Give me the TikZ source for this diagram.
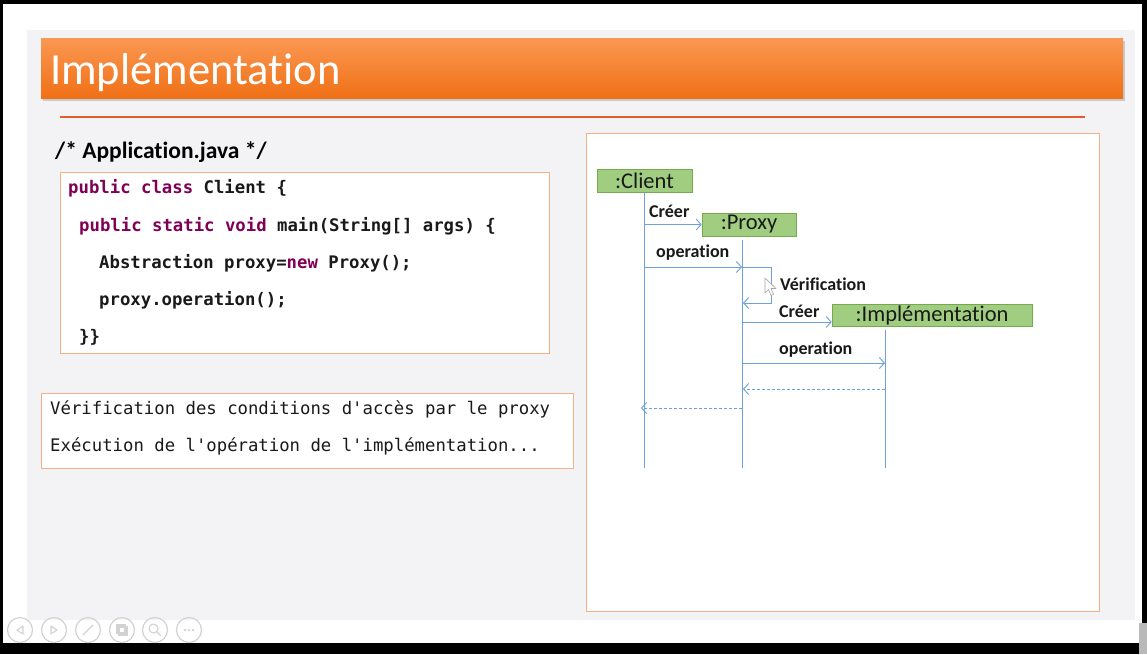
\documentclass[tikz,border=0pt]{standalone}
\usepackage{fontspec}
\setmainfont{Carlito}[Ligatures=NoCommon]
\newfontfamily\codefont{DejaVu Sans Mono}
\usetikzlibrary{arrows.meta,shadows}
\definecolor{slidegrey}{RGB}{243,243,245}
\definecolor{titletop}{RGB}{250,152,82}
\definecolor{titlebot}{RGB}{240,112,22}
\definecolor{rulecol}{RGB}{228,92,45}
\definecolor{boxline}{RGB}{244,177,131}
\definecolor{kw}{RGB}{127,0,85}
\definecolor{life}{RGB}{110,160,220}
\definecolor{objfill}{RGB}{160,205,128}
\definecolor{objline}{RGB}{115,170,75}
\definecolor{iconcol}{RGB}{210,210,210}
\definecolor{ink}{RGB}{25,25,25}

\tikzset{
  codeline/.style={anchor=west, inner sep=0pt, text=ink,
    font=\codefont\bfseries\fontsize{17.3}{20}\selectfont},
  noteline/.style={anchor=west, inner sep=0pt, text=ink,
    font=\codefont\fontsize{17.3}{20}\selectfont},
  obj/.style={draw=objline, fill=objfill, line width=0.6pt, inner sep=0pt,
    text=ink, font=\fontsize{22.5}{24}\selectfont},
  msg/.style={anchor=west, inner sep=0pt, text=ink,
    font=\bfseries\fontsize{18}{20}\selectfont},
  lifeline/.style={draw=life, line width=1pt},
  call/.style={draw=life, line width=0.9pt, -{Straight Barb[length=5pt,width=11pt]}},
  reply/.style={call, dash pattern=on 3pt off 2pt},
  panel/.style={draw=boxline, fill=white, line width=1pt},
  toolbtn/.style={circle, draw=iconcol, line width=1.2pt, minimum size=25pt, inner sep=0pt},
  toolglyph/.style={draw=iconcol, line width=1.1pt},
}

\begin{document}
\begin{tikzpicture}[x=1pt,y=-1pt]
\useasboundingbox (0,0) rectangle (1147,654);

% screen frame and slide
\fill[black] (0,0) rectangle (1147,654);
\fill[white] (3,4) rectangle (1142,643);
\fill[slidegrey] (27,30) rectangle (1135,620);
\fill[gray!55] (1139,623) rectangle (1147,654);

% title bar
\path[top color=titletop, bottom color=titlebot,
      drop shadow={shadow xshift=1.5pt, shadow yshift=-2.5pt, opacity=0.35}]
  (41,38) rectangle (1123,98);
\node[anchor=base west, inner sep=0pt, text=white,
      font=\fontsize{44.5}{48}\selectfont] (title) at (50,84) {Implémentation};
\draw[rulecol, line width=1.6pt] (60,117) -- (1085,117);

% source listing
\node[anchor=base west, inner sep=0pt, text=black,
      font=\bfseries\fontsize{23.5}{26}\selectfont] (file) at (55,158) {/* Application.java */};
\draw[panel] (60,172) rectangle (549,353);
\node[codeline] (l1) at (68,188) {\textcolor{kw}{public class} Client \{};
\node[codeline] (l2) at (79,226) {\textcolor{kw}{public static void} main(String[] args) \{};
\node[codeline] (l3) at (99,263) {Abstraction proxy=\textcolor{kw}{new} Proxy();};
\node[codeline] (l4) at (99,300) {proxy.operation();};
\node[codeline] (l5) at (79,337) {\}\}};

% console output
\draw[panel] (41,393) rectangle (573,468);
\node[noteline] (o1) at (50,409) {Vérification des conditions d'accès par le proxy};
\node[noteline] (o2) at (50,446) {Exécution de l'opération de l'implémentation...};

% sequence diagram
\draw[panel] (586,133) rectangle (1099,611);
\node[obj, minimum width=95pt, minimum height=23pt] (client) at (644.5,180.5) {:Client};
\node[obj, minimum width=94pt, minimum height=23pt] (proxy) at (749,224.5) {:Proxy};
\node[obj, minimum width=200pt, minimum height=22pt] (impl) at (932,315) {:Implémentation};

\coordinate (cEnd) at (644.5,468);
\coordinate (pTop) at (742,240);
\coordinate (pEnd) at (742,468);
\coordinate (iTop) at (885,330);
\coordinate (iEnd) at (885,468);
\draw[lifeline] (client.south) -- (cEnd);
\draw[lifeline] (pTop) -- (pEnd);
\draw[lifeline] (iTop) -- (iEnd);

% messages
\coordinate (c1) at (644.5,224.5);
\draw[call] (c1) -- (proxy.west);
\node[msg] (m1) at (649,211) {Créer};

\coordinate (c2) at (644.5,267);
\coordinate (p2) at (742,267);
\draw[call] (c2) -- (p2);
\node[msg] (m2) at (656,253) {operation};

\coordinate (s1) at (771,267);
\coordinate (s2) at (771,303);
\coordinate (p3) at (743,303);
\draw[call] (p2) -- (s1) -- (s2) -- (p3);
\node[msg] (m3) at (780,284) {Vérification};

\coordinate (p4) at (742,322);
\draw[call] (p4) -- (impl.west |- p4);
\node[msg] (m4) at (779,311) {Créer};

\coordinate (p5) at (742,363);
\coordinate (i5) at (885,363);
\draw[call] (p5) -- (i5);
\node[msg] (m5) at (779,350) {operation};

\coordinate (i6) at (885,389);
\coordinate (p6) at (743,389);
\draw[reply] (i6) -- (p6);

\coordinate (p7) at (742,408);
\coordinate (c7) at (641,408);
\draw[reply] (p7) -- (c7);

% mouse pointer
\draw[fill=white, draw=gray!70, line width=0.6pt, line join=round]
  (765,278) -- (765,293) -- (768.5,289.5) -- (771,295.5) -- (773.5,294.5)
  -- (771,288.5) -- (776,288.5) -- cycle;

% slide-show toolbar
\node[toolbtn] (b1) at (20,630) {};
\node[toolbtn] (b2) at (54,630) {};
\node[toolbtn] (b3) at (88,630) {};
\node[toolbtn] (b4) at (122,630) {};
\node[toolbtn] (b5) at (155,630) {};
\node[toolbtn] (b6) at (189,630) {};
\draw[toolglyph, line join=round] ([xshift=-3pt]b1.center) -- ++(6,-4) -- ++(0,8) -- cycle;
\draw[toolglyph, line join=round] ([xshift=3pt]b2.center) -- ++(-6,-4) -- ++(0,8) -- cycle;
\draw[toolglyph, line cap=round] ([shift={(-5pt,-5pt)}]b3.center) -- ([shift={(5pt,5pt)}]b3.center);
\draw[toolglyph] ([shift={(-5pt,5pt)}]b4.center) rectangle ([shift={(3pt,-3pt)}]b4.center);
\draw[toolglyph] ([shift={(-3pt,3pt)}]b4.center) rectangle ([shift={(5pt,-5pt)}]b4.center);
\draw[toolglyph] ([shift={(-1.5pt,1.5pt)}]b5.center) circle (4.5pt);
\draw[toolglyph, line cap=round] ([shift={(1.8pt,-1.8pt)}]b5.center) -- ([shift={(5.5pt,-5.5pt)}]b5.center);
\foreach \dx in {-4,0,4} \fill[iconcol] ([xshift=\dx pt]b6.center) circle (1.3pt);
\end{tikzpicture}
\end{document}
